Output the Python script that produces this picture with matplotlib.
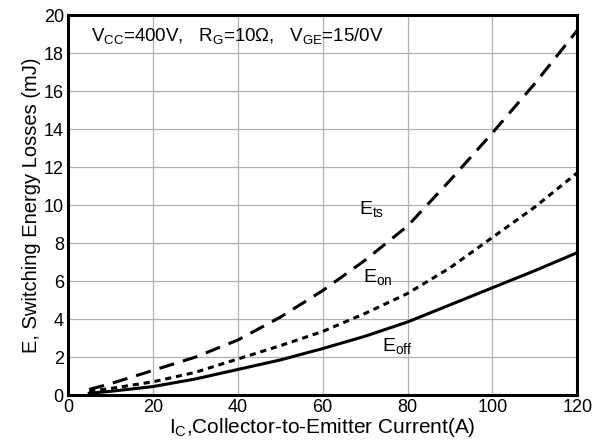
import matplotlib.pyplot as plt

plt.rcParams['font.family'] = ['Liberation Sans', 'DejaVu Sans']
plt.rcParams['mathtext.fontset'] = 'custom'
plt.rcParams['mathtext.rm'] = 'Liberation Sans'
plt.rcParams['mathtext.default'] = 'regular'

# Collector current (A)
ic = [5, 10, 20, 30, 40, 50, 60, 70, 80, 90, 100, 110, 120]
# Switching energy losses (mJ)
e_ts = [0.3, 0.6, 1.3, 2.0, 2.9, 4.1, 5.5, 7.1, 8.9, 11.3, 13.8, 16.4, 19.2]
e_on = [0.2, 0.35, 0.7, 1.2, 1.9, 2.6, 3.35, 4.3, 5.35, 6.7, 8.3, 9.9, 11.7]
e_off = [0.1, 0.2, 0.45, 0.85, 1.35, 1.85, 2.45, 3.1, 3.85, 4.75, 5.65, 6.55, 7.5]

fig = plt.figure(figsize=(6.1, 4.48), dpi=100)
ax = fig.add_axes([0.1115, 0.118, 0.835, 0.8485])

ax.plot(ic, e_ts, color='black', lw=2.2, dashes=(5, 3))
ax.plot(ic, e_on, color='black', lw=2.2, dashes=(2, 1.6))
ax.plot(ic, e_off, color='black', lw=2.2)

ax.set_xlim(0, 120)
ax.set_ylim(0, 20)
ax.set_xticks(range(0, 121, 20))
ax.set_yticks(range(0, 21, 2))
ax.grid(True, color='#b0b0b0', lw=0.9)
ax.tick_params(length=0, labelsize=13, pad=3)
for s in ax.spines.values():
    s.set_linewidth(2.2)

ax.set_xlabel('I$_C$,Collector-to-Emitter Current(A)', fontsize=15, labelpad=0)
ax.set_ylabel('E, Switching Energy Losses (mJ)', fontsize=14.5, labelpad=2)

ax.text(5.5, 18.9, 'V$_{CC}$=400V,   R$_{G}$=10Ω,   V$_{GE}$=15/0V',
        fontsize=13.5, va='center', ha='left')
ax.text(68.5, 9.8, 'E$_{ts}$', fontsize=14, ha='left', va='center')
ax.text(69.5, 6.2, 'E$_{on}$', fontsize=14, ha='left', va='center')
ax.text(74, 2.6, 'E$_{off}$', fontsize=14, ha='left', va='center')

fig.savefig('out.png', dpi=100)
